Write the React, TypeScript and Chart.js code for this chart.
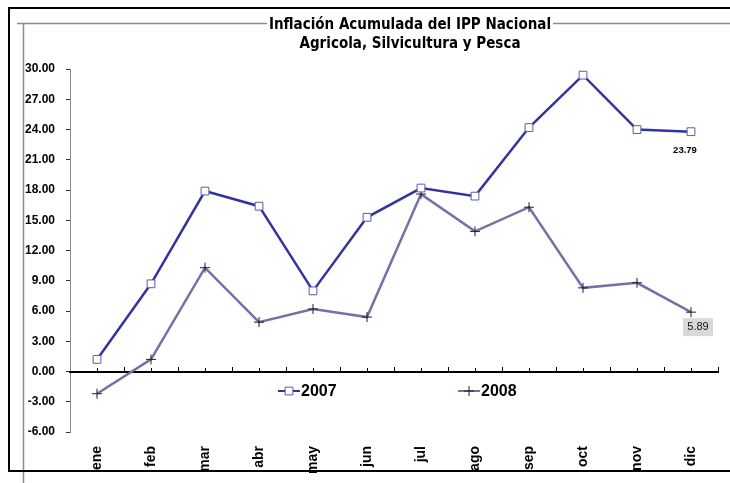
import React, { useEffect, useRef } from 'react';
import { Chart, registerables } from 'chart.js';
import { drawPoint } from 'chart.js/helpers';

Chart.register(...registerables);

const categories = ['ene', 'feb', 'mar', 'abr', 'may', 'jun', 'jul', 'ago', 'sep', 'oct', 'nov', 'dic'];
const seriesLabels = ['2007', '2008'];
const values2007 = [1.2, 8.7, 17.9, 16.4, 8.0, 15.3, 18.2, 17.4, 24.2, 29.4, 24.0, 23.79];
const values2008 = [-2.2, 1.2, 10.3, 4.9, 6.2, 5.4, 17.6, 13.9, 16.3, 8.3, 8.8, 5.89];
const yTickValues = [-6, -3, 0, 3, 6, 9, 12, 15, 18, 21, 24, 27, 30];
const titleLines = ['Inflación Acumulada del IPP Nacional', 'Agricola, Silvicultura y Pesca'];
const labelledPointIndex = 11;

const NARROW = "'Liberation Sans Narrow', 'DejaVu Sans Condensed', 'Liberation Sans', sans-serif";
const SANS = "'Liberation Sans', Arial, sans-serif";
const TITLE_SIZE = 15;

const decorPlugin = {
  id: 'decor',
  afterLayout(chart: any) {
    const tb = chart.titleBlock;
    if (tb) {
      const w = tb.right - tb.left;
      tb.left = 410 - w / 2;
      tb.right = 410 + w / 2;
    }
  },
  beforeDraw(chart: any) {
    const ctx = chart.ctx as CanvasRenderingContext2D;
    const W = chart.width;
    const H = chart.height;
    ctx.save();
    ctx.fillStyle = '#ffffff';
    ctx.fillRect(0, 0, W, H);
    ctx.font = `bold ${TITLE_SIZE}px ${NARROW}`;
    const tw = ctx.measureText(titleLines[0]).width;
    const gapL = 410 - tw / 2 - 2;
    const gapR = 410 + tw / 2 + 2;
    ctx.strokeStyle = '#8c8c8c';
    ctx.lineWidth = 1.5;
    ctx.beginPath();
    ctx.moveTo(17, 23.5);
    ctx.lineTo(gapL, 23.5);
    ctx.moveTo(gapR, 23.5);
    ctx.lineTo(W, 23.5);
    ctx.moveTo(23.5, 23);
    ctx.lineTo(23.5, H);
    ctx.stroke();
    ctx.strokeStyle = '#000000';
    ctx.lineWidth = 2;
    ctx.beginPath();
    ctx.moveTo(8, 8);
    ctx.lineTo(W, 8);
    ctx.moveTo(9, 8);
    ctx.lineTo(9, 471);
    ctx.moveTo(8, 471);
    ctx.lineTo(W, 471);
    ctx.stroke();
    ctx.restore();
  },
  afterDatasetsDraw(chart: any) {
    const ctx = chart.ctx as CanvasRenderingContext2D;
    ctx.save();
    const m0 = chart.getDatasetMeta(0).data[labelledPointIndex];
    if (m0) {
      ctx.font = `bold 9.5px ${SANS}`;
      ctx.fillStyle = '#000';
      ctx.textAlign = 'center';
      ctx.textBaseline = 'middle';
      ctx.fillText(values2007[labelledPointIndex].toFixed(2), m0.x - 6, m0.y + 19);
    }
    const m1 = chart.getDatasetMeta(1).data[labelledPointIndex];
    if (m1) {
      const cx = m1.x + 7;
      const cy = m1.y + 15;
      ctx.fillStyle = '#d9d9d9';
      ctx.fillRect(cx - 15, cy - 9, 30, 18);
      ctx.font = `11px ${SANS}`;
      ctx.fillStyle = '#111';
      ctx.textAlign = 'center';
      ctx.textBaseline = 'middle';
      ctx.fillText(values2008[labelledPointIndex].toFixed(2), cx, cy);
    }
    ctx.restore();
  },
  afterDraw(chart: any) {
    const ctx = chart.ctx as CanvasRenderingContext2D;
    const starts = [278, 458];
    const ly = 391;
    ctx.save();
    chart.data.datasets.forEach((ds: any, i: number) => {
      const sx = starts[i];
      ctx.strokeStyle = ds.borderColor;
      ctx.lineWidth = 2;
      ctx.beginPath();
      ctx.moveTo(sx, ly);
      ctx.lineTo(sx + 22, ly);
      ctx.stroke();
      ctx.fillStyle = ds.pointBackgroundColor;
      ctx.strokeStyle = ds.pointBorderColor;
      ctx.lineWidth = ds.pointBorderWidth;
      drawPoint(ctx, { pointStyle: ds.pointStyle, radius: ds.pointRadius, rotation: 0, borderWidth: ds.pointBorderWidth }, sx + 11, ly);
      ctx.font = `bold 16px ${SANS}`;
      ctx.fillStyle = '#000';
      ctx.textAlign = 'left';
      ctx.textBaseline = 'middle';
      ctx.fillText(ds.label, sx + 23, ly + 1);
    });
    ctx.restore();
  },
};

export default function App() {
  const ref = useRef<HTMLCanvasElement>(null);
  useEffect(() => {
    if (!ref.current) return;
    const chart = new Chart(ref.current, {
      type: 'line',
      data: {
        labels: categories,
        datasets: [
          {
            label: seriesLabels[0],
            data: values2007,
            xAxisID: 'x',
            yAxisID: 'y',
            borderColor: '#34349c',
            borderWidth: 2.5,
            pointStyle: 'rect',
            pointRadius: 5.5,
            pointBackgroundColor: '#ffffff',
            pointBorderColor: '#5a5aa8',
            pointBorderWidth: 1,
            tension: 0,
            fill: false,
          },
          {
            label: seriesLabels[1],
            data: values2008,
            xAxisID: 'x',
            yAxisID: 'y',
            borderColor: '#7272a8',
            borderWidth: 2.5,
            pointStyle: 'cross',
            pointRadius: 5,
            pointBackgroundColor: '#222222',
            pointBorderColor: '#222222',
            pointBorderWidth: 1,
            tension: 0,
            fill: false,
          },
        ],
      } as any,
      options: {
        responsive: false,
        animation: false,
        devicePixelRatio: 1,
        layout: { padding: { left: 0, right: 12, top: 0, bottom: 0 } },
        plugins: {
          legend: { display: false },
          tooltip: { enabled: false },
          title: {
            display: true,
            text: titleLines,
            color: '#000',
            font: { family: NARROW, size: TITLE_SIZE, weight: 'bold', lineHeight: 1.27 },
            padding: { top: 16, bottom: 15 },
          },
        },
        scales: {
          y: {
            type: 'linear',
            position: 'left',
            min: -6,
            max: 30,
            grid: { display: true, drawOnChartArea: false, drawTicks: true, tickLength: 4, color: '#333' },
            border: { display: true, color: '#8a8a8a', width: 1 },
            ticks: {
              padding: 11,
              color: '#000',
              font: { family: SANS, size: 12, weight: 'bold' },
              callback: (v: any) => Number(v).toFixed(2),
            },
            afterBuildTicks: (s: any) => {
              s.ticks = yTickValues.map((v) => ({ value: v }));
            },
            afterFit: (s: any) => {
              s.width = 70;
            },
          },
          x: {
            type: 'category',
            position: { y: 0 },
            offset: true,
            grid: { display: true, drawOnChartArea: false, drawTicks: true, tickLength: -5, color: '#000', lineWidth: 1, offset: false },
            border: { display: true, color: '#000', width: 2 },
            ticks: { display: false },
          },
          xb: {
            type: 'category',
            position: { y: 0 },
            offset: true,
            grid: { display: true, drawOnChartArea: false, drawTicks: true, tickLength: -5, color: '#000', lineWidth: 1, offset: true },
            border: { display: false },
            ticks: { display: false },
          },
          xl: {
            type: 'category',
            position: 'bottom',
            offset: true,
            grid: { display: false, drawTicks: false },
            border: { display: false },
            ticks: {
              autoSkip: false,
              minRotation: 90,
              maxRotation: 90,
              padding: 14,
              color: '#000',
              font: { family: SANS, size: 14, weight: 'bold' },
            },
            afterFit: (s: any) => {
              s.height = 51;
            },
          },
        } as any,
      },
      plugins: [decorPlugin as any],
    });
    return () => chart.destroy();
  }, []);
  return (
    <div style={{ position: 'absolute', left: 0, top: 0, width: 730, height: 483 }}>
      <canvas ref={ref} width={730} height={483} style={{ display: 'block' }} />
    </div>
  );
}
